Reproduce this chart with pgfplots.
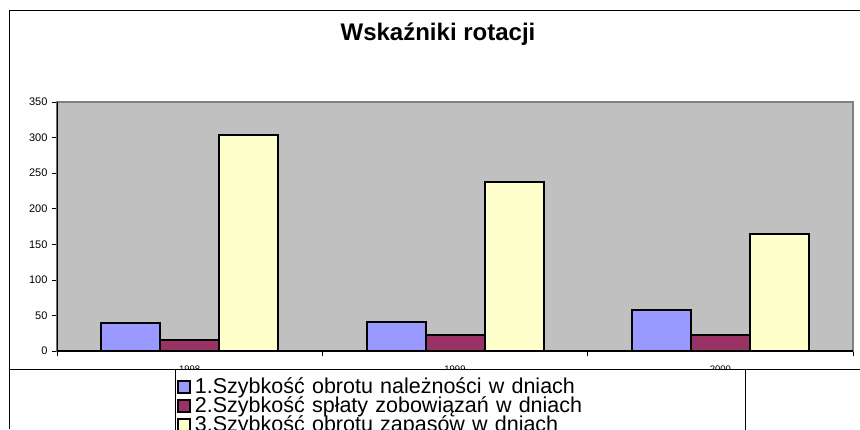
\documentclass[border=0pt]{standalone}
\usepackage{pgfplots}
\pgfplotsset{compat=1.18}
\usepackage{fontspec}
\setmainfont{Liberation Sans}
\definecolor{plotbg}{RGB}{192,192,192}
\definecolor{sA}{RGB}{153,153,255}
\definecolor{sB}{RGB}{153,51,102}
\definecolor{sC}{RGB}{255,255,204}
\definecolor{frameg}{RGB}{128,128,128}
\begin{document}
\begin{tikzpicture}
\useasboundingbox (0pt,0pt) rectangle (860pt,429pt);
\clip (0pt,0pt) rectangle (860pt,429pt);
\fill[white] (0pt,0pt) rectangle (860pt,429pt);
\begin{axis}[
  at={(57pt,78pt)}, anchor=south west,
  width=796pt, height=249pt, scale only axis,
  xmin=-0.5, xmax=2.5, ymin=0, ymax=350,
  ytick={0,50,...,350},
  xtick={0,1,2}, xticklabels={1998,1999,2000},
  xtick pos=bottom, ytick pos=left,
  major x tick style={draw=none},
  minor xtick={-0.5,0.5,1.5,2.5},
  tick align=outside, major tick length=5pt, minor tick length=5pt,
  tick style={black, line width=0.7pt},
  axis background/.style={fill=plotbg},
  axis line style={frameg, line width=1.2pt},
  /pgf/number format/assume math mode=true,
  yticklabel style={font=\fontsize{11}{12}\selectfont, xshift=-1pt},
  xticklabel style={font=\fontsize{9.5}{10}\selectfont, yshift=-6pt},
  mylegend/.style={legend image code/.code={\draw[##1, line width=1.6pt] (0pt,-6pt) rectangle (12pt,6pt);}},
  legend style={at={(0.1482,-0.0723)}, anchor=north west, draw=black, line width=0.8pt, fill=white,
    font=\fontsize{21.5}{19}\selectfont, inner xsep=2pt, inner ysep=8pt, row sep=0pt,
    nodes={text height=16pt, text depth=3pt, inner ysep=0pt, inner xsep=3pt, text width=545pt},
    /tikz/every odd column/.style={column sep=1pt}},
  legend cell align=left,
]
\addplot[ybar, bar width=59pt, bar shift=-59pt, fill=sA, draw=black, line width=2pt, mylegend]
  coordinates {(0,39) (1,41) (2,58)};
\addlegendentry{1.Szybkość obrotu należności w dniach}
\addplot[ybar, bar width=59pt, bar shift=0pt, fill=sB, draw=black, line width=2pt, mylegend]
  coordinates {(0,15) (1,22) (2,23)};
\addlegendentry{2.Szybkość spłaty zobowiązań w dniach}
\addplot[ybar, bar width=59pt, bar shift=59pt, fill=sC, draw=black, line width=2pt, mylegend]
  coordinates {(0,304) (1,238) (2,165)};
\addlegendentry{3.Szybkość obrotu zapasów w dniach}
\draw[black, line width=1.2pt] (rel axis cs:0,1) -- (rel axis cs:0,0) -- (rel axis cs:1,0);
\end{axis}
\draw[black, line width=0.9pt] (860pt,419pt) -- (9pt,419pt) -- (9pt,0pt);
\draw[black, line width=0.9pt] (9pt,60pt) -- (860pt,60pt);
\node[font=\bfseries\fontsize{24}{26}\selectfont] at (438pt,395pt) {Wskaźniki rotacji};
\end{tikzpicture}
\end{document}
